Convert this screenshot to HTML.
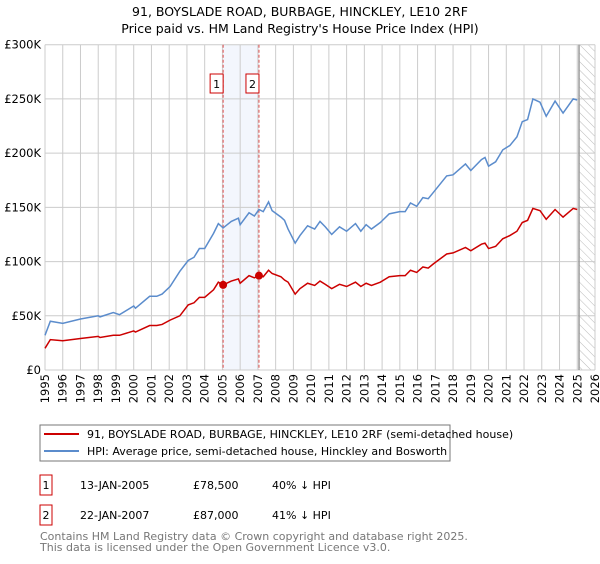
<!DOCTYPE html>
<html><head><meta charset="utf-8"><style>
body{margin:0;background:#fff;font-family:"DejaVu Sans","Liberation Sans",sans-serif;}
svg text{font-family:"DejaVu Sans","Liberation Sans",sans-serif;}
</style></head><body>
<svg id="chart" width="600" height="560" xmlns="http://www.w3.org/2000/svg">
<text x="300" y="16" text-anchor="middle" font-size="12.5">91, BOYSLADE ROAD, BURBAGE, HINCKLEY, LE10 2RF</text>
<text x="300" y="33" text-anchor="middle" font-size="12.5">Price paid vs. HM Land Registry's House Price Index (HPI)</text>
<defs><pattern id="hatch" patternUnits="userSpaceOnUse" width="6" height="6" patternTransform="rotate(-45)"><line x1="0" y1="0" x2="0" y2="6" stroke="#bbb" stroke-width="1"/></pattern></defs>
<g id="grid"></g>
<g id="marks"></g>
<g id="axes"></g>
<g>
<rect x="40" y="425" width="410" height="36" fill="#fff" stroke="#777"/>
<line x1="44" y1="434" x2="79" y2="434" stroke="#cc0000" stroke-width="2"/>
<text x="87" y="438" font-size="11">91, BOYSLADE ROAD, BURBAGE, HINCKLEY, LE10 2RF (semi-detached house)</text>
<line x1="44" y1="451" x2="79" y2="451" stroke="#5b8ccc" stroke-width="2"/>
<text x="87" y="455" font-size="11">HPI: Average price, semi-detached house, Hinckley and Bosworth</text>
</g>
<g font-size="11">
<rect x="40" y="475" width="12" height="20" fill="#fff" stroke="#cc0000"/>
<text x="46" y="489" text-anchor="middle">1</text>
<text x="80" y="489">13-JAN-2005</text><text x="193" y="489">£78,500</text><text x="272" y="489">40% ↓ HPI</text>
<rect x="40" y="505" width="12" height="20" fill="#fff" stroke="#cc0000"/>
<text x="46" y="519" text-anchor="middle">2</text>
<text x="80" y="519">22-JAN-2007</text><text x="193" y="519">£87,000</text><text x="272" y="519">41% ↓ HPI</text>
</g>
<text x="40" y="540" font-size="11" fill="#777">Contains HM Land Registry data © Crown copyright and database right 2025.</text>
<text x="40" y="551" font-size="11" fill="#777">This data is licensed under the Open Government Licence v3.0.</text>
</svg>
<script>
const years=[1995.0,1995.3,1996.0,1997.0,1998.0,1998.1,1998.85,1999.2,2000.0,2000.1,2000.9,2001.3,2001.6,2002.05,2002.6,2003.07,2003.4,2003.7,2004.0,2004.5,2004.77,2005.04,2005.5,2005.9,2006.0,2006.5,2006.8,2007.06,2007.3,2007.6,2007.8,2008.3,2008.5,2008.7,2009.1,2009.37,2009.8,2010.2,2010.5,2010.8,2011.16,2011.6,2012.0,2012.5,2012.8,2013.1,2013.4,2013.9,2014.4,2015.0,2015.3,2015.6,2015.95,2016.3,2016.6,2016.9,2017.64,2018.0,2018.7,2019.0,2019.6,2019.8,2020.0,2020.4,2020.8,2021.2,2021.6,2021.9,2022.2,2022.5,2022.9,2023.25,2023.75,2024.2,2024.77,2025.0];
const hpiValues=[32,45,43,47,50,49,53,51,59,57,68,68,70,77,91,101,104,112,112,126,135,131,137,140,134,145,142,148,146,155,147,141,138,130,117,124,133,130,137,132,125,132,128,135,128,134,130,136,144,146,146,154,151,159,158,164,179,180,190,184,194,196,188,192,203,207,215,229,231,250,247,234,248,237,250,249];
const priceValues=[20,28,27,29,31,30,32,32,36,35,41,41,42,46,50,60,62,67,67,74,81,78.5,82,84,80,87,85,87,86,92,89,86,83,81,70,75,80,78,82,79,75,79,77,81,77,80,78,81,86,87,87,92,90,95,94,98,107,108,113,110,116,117,112,114,121,124,128,136,138,149,147,139,148,141,149,148];
const saleYears=[2005.04,2007.06];
const saleValues=[78.5,87];
const saleLabels=["1","2"];
const yTicks=[0,50,100,150,200,250,300];
const yTickLabels=["£0","£50K","£100K","£150K","£200K","£250K","£300K"];
const xTicks=[1995,1996,1997,1998,1999,2000,2001,2002,2003,2004,2005,2006,2007,2008,2009,2010,2011,2012,2013,2014,2015,2016,2017,2018,2019,2020,2021,2022,2023,2024,2025,2026];
const forecastStart=2025.1;

const NS="http://www.w3.org/2000/svg";
const X0=45,X1=595,Y0=370,Y1=44.7;
const xs=v=>X0+(v-1995)/(2026-1995)*(X1-X0);
const ys=v=>Y0-v/300*(Y0-Y1);
function mk(tag,attrs,parent){const e=document.createElementNS(NS,tag);for(const k in attrs)e.setAttribute(k,attrs[k]);parent.appendChild(e);return e;}
const grid=document.getElementById('grid'),marks=document.getElementById('marks'),axes=document.getElementById('axes');
const sh=mk('rect',{x:xs(saleYears[0]),y:Y1,width:xs(saleYears[1])-xs(saleYears[0]),height:Y0-Y1,fill:'#f3f6fd'},grid);


const hr=mk('rect',{x:xs(forecastStart),y:Y1,width:X1-xs(forecastStart),height:Y0-Y1,fill:'url(#hatch)'},grid);


yTicks.forEach((t,i)=>{
 const l=mk('line',{x1:X0,x2:X1,y1:ys(t),y2:ys(t),stroke:'#ccc'},grid);
 
 
 const tx=mk('text',{x:X0-4,y:ys(t)+4,'text-anchor':'end','font-size':'11.5'},axes);
 tx.textContent=yTickLabels[i];
 
 
});
xTicks.forEach(t=>{
 const l=mk('line',{x1:xs(t),x2:xs(t),y1:Y1,y2:Y0,stroke:'#ccc'},grid);
 
 
 const tx=mk('text',{x:0,y:0,'text-anchor':'end','font-size':'11.5',transform:`translate(${xs(t)+4},374) rotate(-90)`},axes);
 tx.textContent=t;
 
 
});
const fl=mk('line',{x1:xs(forecastStart),x2:xs(forecastStart),y1:Y1,y2:Y0,stroke:'#999','stroke-width':1.5},grid);


saleYears.forEach((s,i)=>{
 const l=mk('line',{x1:xs(s),x2:xs(s),y1:Y1,y2:Y0,stroke:'#e05050','stroke-dasharray':'3,2'},marks);
 
 
 const b=mk('rect',{x:xs(s)-13,y:74,width:13,height:19,fill:'#fff',stroke:'#cc0000'},marks);
 
 
 const t=mk('text',{x:xs(s)-6.5,y:88,'text-anchor':'middle','font-size':'11'},marks);
 t.textContent=saleLabels[i];
 
 
});
const hp=mk('polyline',{points:years.map((y,i)=>xs(y)+','+ys(hpiValues[i])).join(' '),fill:'none',stroke:'#5b8ccc','stroke-width':1.5},marks);


const pp=mk('polyline',{points:years.map((y,i)=>xs(y)+','+ys(priceValues[i])).join(' '),fill:'none',stroke:'#cc0000','stroke-width':1.5},marks);


saleYears.forEach((s,i)=>{
 const c=mk('circle',{cx:xs(s),cy:ys(saleValues[i]),r:4,fill:'#cc0000'},marks);
 
 
});
</script>
</body></html>
